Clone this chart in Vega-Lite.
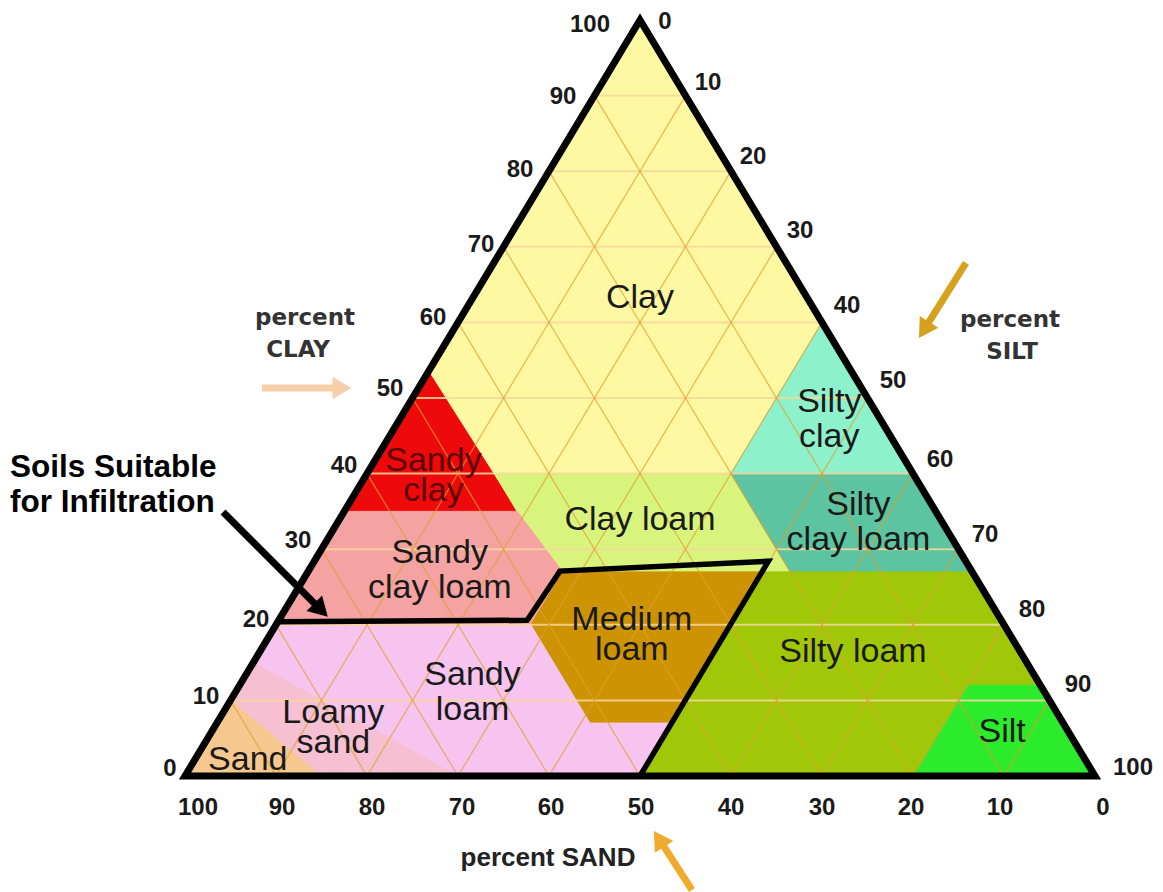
{
  "$schema": "https://vega.github.io/schema/vega-lite/v6.json",
  "width": 1163,
  "height": 892,
  "padding": 0,
  "autosize": {"type": "none"},
  "background": "white",
  "config": {"view": {"stroke": null}},
  "datasets": {
    "regions": [
      {"region": "Clay", "i": 0, "u": 50, "v": 100},
      {"region": "Clay", "i": 1, "u": 70, "v": 60},
      {"region": "Clay", "i": 2, "u": 60, "v": 40},
      {"region": "Clay", "i": 3, "u": 34, "v": 40},
      {"region": "Clay", "i": 4, "u": 26.75, "v": 53.5},
      {"region": "Sandy clay", "i": 0, "u": 26.75, "v": 53.5},
      {"region": "Sandy clay", "i": 1, "u": 36.5, "v": 35},
      {"region": "Sandy clay", "i": 2, "u": 17.5, "v": 35},
      {"region": "Clay loam", "i": 0, "u": 34, "v": 40},
      {"region": "Clay loam", "i": 1, "u": 60, "v": 40},
      {"region": "Clay loam", "i": 2, "u": 66.5, "v": 27},
      {"region": "Clay loam", "i": 3, "u": 41.5, "v": 27},
      {"region": "Clay loam", "i": 4, "u": 36.5, "v": 35},
      {"region": "Silty clay", "i": 0, "u": 70, "v": 60},
      {"region": "Silty clay", "i": 1, "u": 80, "v": 40},
      {"region": "Silty clay", "i": 2, "u": 60, "v": 40},
      {"region": "Silty clay loam", "i": 0, "u": 60, "v": 40},
      {"region": "Silty clay loam", "i": 1, "u": 80, "v": 40},
      {"region": "Silty clay loam", "i": 2, "u": 86.5, "v": 27},
      {"region": "Silty clay loam", "i": 3, "u": 66.5, "v": 27},
      {"region": "Sandy clay loam", "i": 0, "u": 17.5, "v": 35},
      {"region": "Sandy clay loam", "i": 1, "u": 36.5, "v": 35},
      {"region": "Sandy clay loam", "i": 2, "u": 41.5, "v": 27},
      {"region": "Sandy clay loam", "i": 3, "u": 38, "v": 20},
      {"region": "Sandy clay loam", "i": 4, "u": 10, "v": 20},
      {"region": "Medium loam", "i": 0, "u": 38, "v": 20},
      {"region": "Medium loam", "i": 1, "u": 41.5, "v": 27},
      {"region": "Medium loam", "i": 2, "u": 63.5, "v": 27},
      {"region": "Medium loam", "i": 3, "u": 53.5, "v": 7},
      {"region": "Medium loam", "i": 4, "u": 44.5, "v": 7},
      {"region": "Silty loam", "i": 0, "u": 63.5, "v": 27},
      {"region": "Silty loam", "i": 1, "u": 86.5, "v": 27},
      {"region": "Silty loam", "i": 2, "u": 94, "v": 12},
      {"region": "Silty loam", "i": 3, "u": 86, "v": 12},
      {"region": "Silty loam", "i": 4, "u": 80, "v": 0},
      {"region": "Silty loam", "i": 5, "u": 50, "v": 0},
      {"region": "Silt", "i": 0, "u": 86, "v": 12},
      {"region": "Silt", "i": 1, "u": 94, "v": 12},
      {"region": "Silt", "i": 2, "u": 100, "v": 0},
      {"region": "Silt", "i": 3, "u": 80, "v": 0},
      {"region": "Sandy loam", "i": 0, "u": 10, "v": 20},
      {"region": "Sandy loam", "i": 1, "u": 38, "v": 20},
      {"region": "Sandy loam", "i": 2, "u": 44.5, "v": 7},
      {"region": "Sandy loam", "i": 3, "u": 53.5, "v": 7},
      {"region": "Sandy loam", "i": 4, "u": 50, "v": 0},
      {"region": "Sandy loam", "i": 5, "u": 30, "v": 0},
      {"region": "Sandy loam", "i": 6, "u": 7.5, "v": 15},
      {"region": "Loamy sand", "i": 0, "u": 7.5, "v": 15},
      {"region": "Loamy sand", "i": 1, "u": 30, "v": 0},
      {"region": "Loamy sand", "i": 2, "u": 15, "v": 0},
      {"region": "Loamy sand", "i": 3, "u": 5, "v": 10},
      {"region": "Sand", "i": 0, "u": 5, "v": 10},
      {"region": "Sand", "i": 1, "u": 15, "v": 0},
      {"region": "Sand", "i": 2, "u": 0, "v": 0}
    ],
    "gridClay": [
      {"u": 5, "v": 10, "u2": 95, "v2": 10},
      {"u": 10, "v": 20, "u2": 90, "v2": 20},
      {"u": 15, "v": 30, "u2": 85, "v2": 30},
      {"u": 20, "v": 40, "u2": 80, "v2": 40},
      {"u": 25, "v": 50, "u2": 75, "v2": 50},
      {"u": 30, "v": 60, "u2": 70, "v2": 60},
      {"u": 35, "v": 70, "u2": 65, "v2": 70},
      {"u": 40, "v": 80, "u2": 60, "v2": 80},
      {"u": 45, "v": 90, "u2": 55, "v2": 90}
    ],
    "gridDiag": [
      {"u": 90, "v": 0, "u2": 45, "v2": 90},
      {"u": 80, "v": 0, "u2": 40, "v2": 80},
      {"u": 70, "v": 0, "u2": 35, "v2": 70},
      {"u": 60, "v": 0, "u2": 30, "v2": 60},
      {"u": 50, "v": 0, "u2": 25, "v2": 50},
      {"u": 40, "v": 0, "u2": 20, "v2": 40},
      {"u": 30, "v": 0, "u2": 15, "v2": 30},
      {"u": 20, "v": 0, "u2": 10, "v2": 20},
      {"u": 10, "v": 0, "u2": 5, "v2": 10},
      {"u": 10, "v": 0, "u2": 55, "v2": 90},
      {"u": 20, "v": 0, "u2": 60, "v2": 80},
      {"u": 30, "v": 0, "u2": 65, "v2": 70},
      {"u": 40, "v": 0, "u2": 70, "v2": 60},
      {"u": 50, "v": 0, "u2": 75, "v2": 50},
      {"u": 60, "v": 0, "u2": 80, "v2": 40},
      {"u": 70, "v": 0, "u2": 85, "v2": 30},
      {"u": 80, "v": 0, "u2": 90, "v2": 20},
      {"u": 90, "v": 0, "u2": 95, "v2": 10}
    ],
    "labels": [
      {"text": "Clay", "region": "Clay", "u": 50, "v": 63.2},
      {"text": "Silty\nclay", "region": "Silty clay", "u": 70.8, "v": 49.5},
      {"text": "Sandy\nclay", "region": "Sandy clay", "u": 27.3, "v": 41.7},
      {"text": "Clay loam", "region": "Clay loam", "u": 50, "v": 33.9},
      {"text": "Silty\nclay loam", "region": "Silty clay loam", "u": 74.0, "v": 35.9},
      {"text": "Sandy\nclay loam", "region": "Sandy clay loam", "u": 28.0, "v": 29.5},
      {"text": "Medium\nloam", "region": "Medium loam", "u": 49.1, "v": 20.6},
      {"text": "Silty loam", "region": "Silty loam", "u": 73.4, "v": 16.4},
      {"text": "Sandy\nloam", "region": "Sandy loam", "u": 31.6, "v": 13.4},
      {"text": "Loamy\nsand", "region": "Loamy sand", "u": 16.3, "v": 8.3},
      {"text": "Sand", "region": "Sand", "u": 6.9, "v": 2.1},
      {"text": "Silt", "region": "Silt", "u": 89.8, "v": 5.8}
    ],
    "frame": [
      {"i": 0, "u": 0, "v": 0},
      {"i": 1, "u": 50, "v": 100},
      {"i": 2, "u": 100, "v": 0}
    ],
    "suitable": [
      {"i": 0, "u": 10.4, "v": 20.4},
      {"i": 1, "u": 37.6, "v": 20.6},
      {"i": 2, "u": 41.2, "v": 27.1},
      {"i": 3, "u": 64.1, "v": 28.4},
      {"i": 4, "u": 50, "v": 0}
    ],
    "clayTicks": [
      {"val": 100, "u": 44.51, "v": 99.34},
      {"val": 90, "u": 41.54, "v": 89.81},
      {"val": 80, "u": 36.81, "v": 80.16},
      {"val": 70, "u": 32.53, "v": 70.24},
      {"val": 60, "u": 27.25, "v": 60.58},
      {"val": 50, "u": 22.53, "v": 51.19},
      {"val": 40, "u": 17.47, "v": 41.01},
      {"val": 30, "u": 12.42, "v": 31.08},
      {"val": 20, "u": 7.80, "v": 20.63},
      {"val": 10, "u": 2.31, "v": 10.45},
      {"val": 0, "u": -1.65, "v": 0.93}
    ],
    "siltTicks": [
      {"val": 0, "u": 52.75, "v": 99.74},
      {"val": 10, "u": 57.47, "v": 91.67},
      {"val": 20, "u": 62.42, "v": 81.88},
      {"val": 30, "u": 67.58, "v": 72.09},
      {"val": 40, "u": 72.75, "v": 62.17},
      {"val": 50, "u": 77.80, "v": 52.25},
      {"val": 60, "u": 82.97, "v": 41.80},
      {"val": 70, "u": 87.91, "v": 31.88},
      {"val": 80, "u": 93.08, "v": 21.96},
      {"val": 90, "u": 98.13, "v": 12.04},
      {"val": 100, "u": 104.18, "v": 1.06}
    ],
    "sandTicks": [
      {"val": 100, "u": 1.43, "v": -4.23},
      {"val": 90, "u": 10.66, "v": -4.23},
      {"val": 80, "u": 20.55, "v": -4.23},
      {"val": 70, "u": 30.44, "v": -4.23},
      {"val": 60, "u": 40.22, "v": -4.23},
      {"val": 50, "u": 50.11, "v": -4.23},
      {"val": 40, "u": 60.0, "v": -4.23},
      {"val": 30, "u": 70.0, "v": -4.23},
      {"val": 20, "u": 79.78, "v": -4.23},
      {"val": 10, "u": 89.56, "v": -4.23},
      {"val": 0, "u": 100.88, "v": -4.23}
    ],
    "noteBig": [
      {"text": "Soils Suitable", "u": -19.23, "v": 40.74},
      {"text": "for Infiltration", "u": -19.23, "v": 36.11}
    ],
    "noteAxis": [
      {"text": "percent", "u": 13.19, "v": 60.58},
      {"text": "CLAY", "u": 12.42, "v": 56.35},
      {"text": "percent", "u": 90.66, "v": 60.32},
      {"text": "SILT", "u": 90.88, "v": 56.08}
    ],
    "noteSand": [
      {"text": "percent SAND", "u": 39.89, "v": -10.85}
    ],
    "arrows": [
      {"name": "infil", "u": 4.18, "v": 34.92, "u2": 14.62, "v2": 22.35},
      {"name": "clay", "u": 8.46, "v": 51.32, "u2": 16.81, "v2": 51.32},
      {"name": "silt", "u": 85.82, "v": 67.86, "u2": 81.21, "v2": 59.0},
      {"name": "sand", "u": 55.71, "v": -15.08, "u2": 52.09, "v2": -8.33}
    ],
    "heads": [
      {"name": "infil", "u": 14.95, "v": 21.96, "ang": 45},
      {"name": "clay", "u": 17.25, "v": 51.32, "ang": 0},
      {"name": "silt", "u": 81.21, "v": 59.0, "ang": 122},
      {"name": "sand", "u": 52.09, "v": -8.33, "ang": 237.5}
    ]
  },
  "encoding": {
    "x": {"field": "u", "type": "quantitative", "scale": {"domain": [-20.3297, 107.4725], "nice": false, "zero": false}, "axis": null},
    "y": {"field": "v", "type": "quantitative", "scale": {"domain": [-15.3439, 102.6455], "nice": false, "zero": false}, "axis": null}
  },
  "layer": [
    {
      "data": {"name": "regions"},
      "mark": {"type": "line", "interpolate": "linear-closed", "strokeWidth": 1},
      "encoding": {
        "detail": {"field": "region", "type": "nominal"},
        "order": {"field": "i", "type": "quantitative"},
        "fill": {"field": "region", "type": "nominal", "legend": null,
          "scale": {"domain": ["Clay", "Sandy clay", "Clay loam", "Silty clay", "Silty clay loam", "Sandy clay loam", "Medium loam", "Silty loam", "Silt", "Sandy loam", "Loamy sand", "Sand"],
                    "range": ["#FFF8A2", "#EE0A0A", "#D9F47C", "#8DF2CC", "#5CC4A0", "#F5A2A2", "#CE9302", "#A0C808", "#2CEA2C", "#F7C4F0", "#F6BFD2", "#F6C890"]}},
        "stroke": {"field": "region", "type": "nominal", "legend": null,
          "scale": {"domain": ["Clay", "Sandy clay", "Clay loam", "Silty clay", "Silty clay loam", "Sandy clay loam", "Medium loam", "Silty loam", "Silt", "Sandy loam", "Loamy sand", "Sand"],
                    "range": ["#FFF8A2", "#EE0A0A", "#D9F47C", "#8DF2CC", "#5CC4A0", "#F5A2A2", "#CE9302", "#A0C808", "#2CEA2C", "#F7C4F0", "#F6BFD2", "#F6C890"]}}
      }
    },
    {
      "data": {"name": "gridClay"},
      "mark": {"type": "rule", "color": "#F6D79A", "strokeWidth": 2, "opacity": 0.85},
      "encoding": {"x2": {"field": "u2"}, "y2": {"field": "v2"}}
    },
    {
      "data": {"name": "gridDiag"},
      "mark": {"type": "rule", "color": "#E0A030", "strokeWidth": 1.3, "opacity": 0.7},
      "encoding": {"x2": {"field": "u2"}, "y2": {"field": "v2"}}
    },
    {
      "data": {"name": "labels"},
      "transform": [{"filter": {"field": "region", "oneOf": ["Clay", "Clay loam", "Silty loam", "Sand", "Silt", "Sandy clay", "Medium loam", "Loamy sand"]}}],
      "mark": {"type": "text", "font": "Liberation Sans", "fontSize": 34, "align": "center", "baseline": "middle", "lineBreak": "\n", "lineHeight": 30},
      "encoding": {
        "text": {"field": "text", "type": "nominal"},
        "color": {"condition": {"test": "datum.region === 'Sandy clay'", "value": "#5a0000"}, "value": "#1a1a1a"}
      }
    },
    {
      "data": {"name": "labels"},
      "transform": [{"filter": {"field": "region", "oneOf": ["Silty clay", "Silty clay loam", "Sandy clay loam", "Sandy loam"]}}],
      "mark": {"type": "text", "font": "Liberation Sans", "fontSize": 34, "align": "center", "baseline": "middle", "lineBreak": "\n", "lineHeight": 35, "color": "#1a1a1a"},
      "encoding": {
        "text": {"field": "text", "type": "nominal"}
      }
    },
    {
      "data": {"name": "suitable"},
      "mark": {"type": "line", "color": "#000000", "strokeWidth": 5.5, "strokeJoin": "miter"},
      "encoding": {"order": {"field": "i", "type": "quantitative"}}
    },
    {
      "data": {"name": "frame"},
      "mark": {"type": "line", "interpolate": "linear-closed", "color": "#000000", "strokeWidth": 7, "strokeJoin": "miter"},
      "encoding": {"order": {"field": "i", "type": "quantitative"}}
    },
    {
      "data": {"name": "clayTicks"},
      "mark": {"type": "text", "font": "Liberation Sans", "fontWeight": "bold", "fontSize": 24, "letterSpacing": -1.2, "align": "center", "baseline": "middle", "color": "#1a1a1a"},
      "encoding": {"text": {"field": "val", "type": "quantitative"}}
    },
    {
      "data": {"name": "siltTicks"},
      "mark": {"type": "text", "font": "Liberation Sans", "fontWeight": "bold", "fontSize": 24, "letterSpacing": -1.2, "align": "center", "baseline": "middle", "color": "#1a1a1a"},
      "encoding": {"text": {"field": "val", "type": "quantitative"}}
    },
    {
      "data": {"name": "sandTicks"},
      "mark": {"type": "text", "font": "Liberation Sans", "fontWeight": "bold", "fontSize": 24, "letterSpacing": -1.2, "align": "center", "baseline": "middle", "color": "#1a1a1a"},
      "encoding": {"text": {"field": "val", "type": "quantitative"}}
    },
    {
      "data": {"name": "noteBig"},
      "mark": {"type": "text", "font": "Liberation Sans", "fontWeight": "bold", "fontSize": 31.5, "align": "left", "baseline": "middle", "color": "#000000"},
      "encoding": {"text": {"field": "text", "type": "nominal"}}
    },
    {
      "data": {"name": "noteAxis"},
      "mark": {"type": "text", "font": "DejaVu Sans", "fontWeight": "bold", "fontSize": 23, "align": "center", "baseline": "middle", "color": "#333333"},
      "encoding": {"text": {"field": "text", "type": "nominal"}}
    },
    {
      "data": {"name": "noteSand"},
      "mark": {"type": "text", "font": "Liberation Sans", "fontWeight": "bold", "fontSize": 26, "align": "center", "baseline": "middle", "color": "#222222"},
      "encoding": {"text": {"field": "text", "type": "nominal"}}
    },
    {
      "data": {"name": "arrows"},
      "mark": {"type": "rule", "strokeWidth": 7},
      "encoding": {
        "x2": {"field": "u2"}, "y2": {"field": "v2"},
        "color": {"field": "name", "type": "nominal", "legend": null,
          "scale": {"domain": ["infil", "clay", "silt", "sand"], "range": ["#000000", "#F6CFA8", "#D6A21E", "#F2AA2C"]}}
      }
    },
    {
      "data": {"name": "heads"},
      "mark": {"type": "point", "shape": "triangle-right", "filled": true, "size": 480, "opacity": 1},
      "encoding": {
        "angle": {"field": "ang", "type": "quantitative", "scale": null},
        "color": {"field": "name", "type": "nominal", "legend": null,
          "scale": {"domain": ["infil", "clay", "silt", "sand"], "range": ["#000000", "#F6CFA8", "#D6A21E", "#F2AA2C"]}}
      }
    }
  ]
}
